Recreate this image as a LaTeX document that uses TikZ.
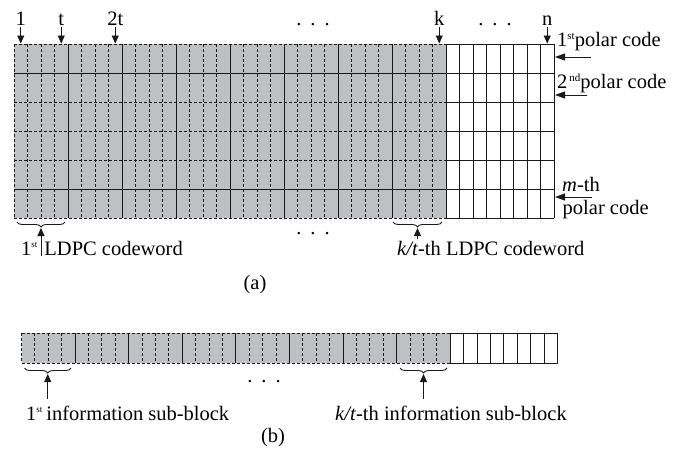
\documentclass[tikz,border=0pt]{standalone}
\usepackage{fontspec}
\setmainfont{Liberation Serif}
\usetikzlibrary{arrows.meta,decorations.pathreplacing}
\definecolor{cellgray}{RGB}{191,192,196}
\definecolor{linecol}{RGB}{25,25,25}
\newcommand{\mysup}[3]{\raisebox{#2}{\fontsize{#1}{#1}\selectfont #3}}
\begin{document}
\begin{tikzpicture}[x=1pt,y=-1pt,
  lbl/.style={font=\fontsize{20.5}{22}\selectfont, inner sep=0pt, anchor=base},
  lblw/.style={font=\fontsize{20.5}{22}\selectfont, inner sep=0pt, anchor=base west},
  arr/.style={-{Triangle[length=8pt,width=7pt]}, line width=0.9pt, linecol},
  harr/.style={-{Triangle[length=10pt,width=7pt]}, line width=0.9pt, linecol},
  solidline/.style={line width=1pt, linecol},
  dashline/.style={line width=0.9pt, linecol, dash pattern=on 3pt off 2pt},
  brc/.style={decorate, decoration={brace, amplitude=5pt, mirror}, line width=0.9pt, linecol},
]
\useasboundingbox (0,0) rectangle (693,453);

% ---------------- grid (a)
\fill[cellgray] (14,44) rectangle (446,218);
\foreach \i in {0,...,31} \draw[dashline] ({14+\i*13.5},44) -- ({14+\i*13.5},218);
\foreach \j in {0,2,3,4,6} \draw[dashline] (14,{44+\j*29}) -- (446,{44+\j*29});
\foreach \i in {4,8,...,32} \draw[solidline] ({14+\i*13.5},44) -- ({14+\i*13.5},218);
\foreach \j in {1,5} \draw[solidline] (14,{44+\j*29}) -- (446,{44+\j*29});
\foreach \i in {33,...,40} \draw[solidline] ({14+\i*13.5},44) -- ({14+\i*13.5},218);
\foreach \j in {0,...,6} \draw[solidline] (446,{44+\j*29}) -- (554,{44+\j*29});

\coordinate (topA) at (0,43.5);
\node[lbl] (c1) at (20.75,25) {1};
\node[lbl] (ct) at (61.25,25) {t};
\node[lbl] (c2t) at (115.25,25) {2t};
\node[lbl] (ck) at (439.25,25) {k};
\node[lbl] (cn) at (547.25,25) {n};
\node[lbl] (dotsT1) at (313,25) {.\hspace{9pt}.\hspace{9pt}.};
\node[lbl] (dotsT2) at (495,25) {.\hspace{9pt}.\hspace{9pt}.};
\foreach \n in {c1,ct,c2t,ck,cn}
  \draw[arr] ([yshift=-2pt]\n.south) -- (\n.south |- topA);

% right labels
\node[lblw] (p1) at (557,46) {1\mysup{11}{7pt}{st}polar code};
\node[lblw] (p2) at (557,88) {2\hspace{2pt}\mysup{11}{7pt}{nd}polar code};
\node[lblw] (pm) at (562,191) {\textit{m}-th};
\node[lblw] (pm2) at (562.5,214) {polar code};
\coordinate (p1s) at (591,57);  \coordinate (p1e) at (555,57);
\coordinate (p2s) at (587,95);  \coordinate (p2e) at (555,95);
\coordinate (pms) at (592,197); \coordinate (pme) at (555,197);
\draw[harr] (p1s) -- (p1e);
\draw[harr] (p2s) -- (p2e);
\draw[harr] (pms) -- (pme);

% braces (a)
\coordinate (ba1l) at (17,222);  \coordinate (ba1r) at (65,222);
\coordinate (ba2l) at (393,222); \coordinate (ba2r) at (442,222);
\draw[brc] (ba1l) -- (ba1r);
\draw[brc] (ba2l) -- (ba2r);
\coordinate (ba1t) at (41,228);  \coordinate (ba2t) at (417.5,228);
\coordinate (la1) at (41,256);   \coordinate (la2) at (417.5,239);
\draw[arr] (la1) -- (ba1t);
\draw[arr] (la2) -- (ba2t);
\node[lblw] (l1) at (21,255) {1\mysup{9}{7.5pt}{st}\hspace{7pt}LDPC codeword};
\node[lblw] (l2) at (397,255) {\textit{k/t}-th LDPC codeword};
\node[lbl] (dotsA) at (313,234) {.\hspace{9pt}.\hspace{9pt}.};
\node[lbl] (capa) at (255,289) {(a)};

% ---------------- grid (b)
\fill[cellgray] (21.5,333) rectangle (450.3,363);
\foreach \i in {0,...,31} \draw[dashline] ({21.5+\i*13.4},333) -- ({21.5+\i*13.4},363);
\foreach \j in {333,363} \draw[dashline] (21.5,\j) -- (450.3,\j);
\foreach \i in {4,8,...,32} \draw[solidline] ({21.5+\i*13.4},333) -- ({21.5+\i*13.4},363);
\foreach \i in {33,...,40} \draw[solidline] ({21.5+\i*13.4},333) -- ({21.5+\i*13.4},363);
\foreach \j in {333,363} \draw[solidline] (450.3,\j) -- (557.5,\j);

\coordinate (bb1l) at (24.5,368); \coordinate (bb1r) at (71,368);
\coordinate (bb2l) at (400,368);  \coordinate (bb2r) at (447,368);
\draw[brc] (bb1l) -- (bb1r);
\draw[brc] (bb2l) -- (bb2r);
\coordinate (bb1t) at (47.75,374); \coordinate (bb2t) at (423.5,374);
\coordinate (lb1) at (47.75,399);  \coordinate (lb2) at (423.5,399);
\draw[arr] (lb1) -- (bb1t);
\draw[arr] (lb2) -- (bb2t);
\node[lblw] (i1) at (26,420) {1\mysup{9}{7.5pt}{st}\hspace{4pt}information sub-block};
\node[lblw] (i2) at (335,420) {\textit{k/t}-th information sub-block};
\node[lbl] (dotsB) at (264,382) {.\hspace{9pt}.\hspace{9pt}.};
\node[lbl] (capb) at (273,442) {(b)};
\end{tikzpicture}
\end{document}
